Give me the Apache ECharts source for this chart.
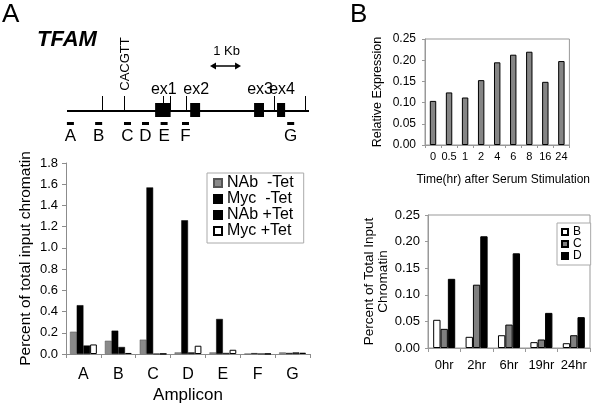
<!DOCTYPE html>
<html>
<head>
<meta charset="utf-8">
<script src="https://cdn.jsdelivr.net/npm/echarts@6/dist/echarts.min.js"></script>
<style>
html,body{margin:0;padding:0;background:#fff;}
#c{width:592px;height:407px;}
</style>
</head>
<body>
<div id="c"></div>
<script>
// ---------- Panel A: gene diagram (positions in kb from left end) ----------
const geneLength = 7.8;
const siteTicks = [1.12, 1.85, 3.08, 3.33, 3.84, 6.68, 7.68];
const motifPos = [1.85];
const motifLabels = ['CACGTT'];
const exonStart = [2.84, 3.97, 6.03, 6.77];
const exonEnd = [3.34, 4.29, 6.35, 7.03];
const exonLabels = ['ex1', 'ex2', 'ex3', 'ex4'];
const ampliconPos = [0.11, 1.02, 1.95, 2.53, 3.13, 3.82, 7.21];
const scaleBar = [4.61, 5.61];
const scaleLabel = '1 Kb';

// ---------- Panel A: ChIP bar chart ----------
const ampliconCats = ['A', 'B', 'C', 'D', 'E', 'F', 'G'];
const nabMinusTet = [0.21, 0.125, 0.135, 0.015, 0.015, 0.002, 0.015];
const mycMinusTet = [0.46, 0.22, 1.57, 1.26, 0.33, 0.008, 0.01];
const nabPlusTet  = [0.08, 0.066, 0.002, 0.015, 0.01, 0.003, 0.015];
const mycPlusTet  = [0.09, 0.01, 0.002, 0.078, 0.04, 0.002, 0.012];
const yTicksA = { min: 0, max: 1.8, interval: 0.2 };

// ---------- Panel B top: expression ----------
const timeCats = ['0', '0.5', '1', '2', '4', '6', '8', '16', '24'];
const relExpr = [0.104, 0.124, 0.112, 0.153, 0.195, 0.213, 0.22, 0.149, 0.198];
const yTicksB = { min: 0, max: 0.25, interval: 0.05 };

// ---------- Panel B bottom: ChIP time course ----------
const hourCats = ['0hr', '2hr', '6hr', '19hr', '24hr'];
const chipB = [0.053, 0.021, 0.024, 0.011, 0.009];
const chipC = [0.036, 0.119, 0.044, 0.016, 0.024];
const chipD = [0.13, 0.21, 0.178, 0.066, 0.058];

const FONT = '"Liberation Sans", Arial, Helvetica, sans-serif';
const GRAY = '#8a8a8a';
const AXIS = '#8c8c8c';

const chart = echarts.init(document.getElementById('c'), null, { renderer: 'canvas' });

function txt(x, y, text, size, extra) {
  return Object.assign({
    type: 'text', x: x, y: y,
    style: { text: text, font: size + 'px ' + FONT, fill: '#000', align: 'center', verticalAlign: 'middle' }
  }, extra || {});
}

const option = {
  animation: false,
  backgroundColor: '#fff',
  textStyle: { fontFamily: FONT, color: '#000' },
  graphic: [
    { type: 'text', left: 2, top: 2, style: { text: 'A', font: '26px ' + FONT, fill: '#000' } },
    { type: 'text', left: 350, top: 2, style: { text: 'B', font: '26px ' + FONT, fill: '#000' } },
    { type: 'text', left: 37, top: 29, style: { text: 'TFAM', font: 'italic bold 22px ' + FONT, fill: '#000' } }
  ],
  legend: [
    {
      data: ['NAb  -Tet', 'Myc  -Tet', 'NAb +Tet', 'Myc +Tet'],
      left: 207, top: 173, orient: 'vertical',
      itemWidth: 8, itemHeight: 8, itemGap: 0,
      padding: [2, 10, 4, 6],
      borderColor: '#aaa', borderWidth: 1, backgroundColor: '#fff',
      icon: 'rect',
      textStyle: { fontSize: 16, lineHeight: 15.5, color: '#000', fontFamily: FONT }
    },
    {
      data: ['B', 'C', 'D'],
      left: 557, top: 223, orient: 'vertical',
      itemWidth: 6, itemHeight: 6, itemGap: 0,
      padding: [3, 9, 3, 4],
      borderColor: '#aaa', borderWidth: 1, backgroundColor: '#fff',
      icon: 'rect',
      textStyle: { fontSize: 12, lineHeight: 11, color: '#000', fontFamily: FONT }
    }
  ],
  grid: [
    { left: 66, right: 282, top: 163, bottom: 53 },
    { left: 425, right: 3, top: 39, bottom: 262, show: true, borderColor: '#999', borderWidth: 1, backgroundColor: 'transparent' },
    { left: 428, right: 2, top: 215, bottom: 59, show: true, borderColor: '#999', borderWidth: 1, backgroundColor: 'transparent' },
    { left: 67, right: 283, top: 61, height: 100 }
  ],
  xAxis: [
    {
      gridIndex: 0, type: 'category', data: ampliconCats,
      axisLine: { lineStyle: { color: AXIS } },
      axisTick: { show: true, length: 4, lineStyle: { color: AXIS } },
      axisLabel: { fontSize: 16, color: '#000', margin: 13, interval: 0 },
      name: 'Amplicon', nameLocation: 'middle', nameGap: 33,
      nameTextStyle: { fontSize: 17, color: '#000' }
    },
    {
      gridIndex: 1, type: 'category', data: timeCats,
      axisLine: { lineStyle: { color: '#999' } },
      axisTick: { show: true, length: 3, lineStyle: { color: '#999' } },
      axisLabel: { fontSize: 11, color: '#000', margin: 6, interval: 0 },
      name: 'Time(hr) after Serum Stimulation', nameLocation: 'middle', nameGap: 29,
      nameTextStyle: { fontSize: 12, color: '#000', padding: [0, 0, 0, 12] }
    },
    {
      gridIndex: 2, type: 'category', data: hourCats,
      axisLine: { lineStyle: { color: '#999' } },
      axisTick: { show: true, length: 4, lineStyle: { color: '#999' } },
      axisLabel: { fontSize: 13, color: '#000', margin: 11, interval: 0 }
    },
    { gridIndex: 3, type: 'value', min: 0, max: geneLength, show: false }
  ],
  yAxis: [
    {
      gridIndex: 0, type: 'value', min: yTicksA.min, max: yTicksA.max, interval: yTicksA.interval,
      axisLine: { show: true, lineStyle: { color: AXIS } },
      axisTick: { show: true, length: 4, lineStyle: { color: AXIS } },
      splitLine: { show: false },
      axisLabel: { fontSize: 13, color: '#000', margin: 8, formatter: v => v.toFixed(1) },
      name: 'Percent of total input chromatin', nameLocation: 'middle', nameGap: 32,
      nameTextStyle: { fontSize: 15.5, color: '#000' }
    },
    {
      gridIndex: 1, type: 'value', min: yTicksB.min, max: yTicksB.max, interval: yTicksB.interval,
      axisLine: { show: true, lineStyle: { color: '#999' } },
      axisTick: { show: true, length: 3, lineStyle: { color: '#999' } },
      splitLine: { show: false },
      axisLabel: { fontSize: 12, color: '#000', margin: 9, formatter: v => v.toFixed(2) },
      name: 'Relative Expression', nameLocation: 'middle', nameGap: 41,
      nameTextStyle: { fontSize: 12.5, color: '#000' }
    },
    {
      gridIndex: 2, type: 'value', min: yTicksB.min, max: yTicksB.max, interval: yTicksB.interval,
      axisLine: { show: true, lineStyle: { color: '#999' } },
      axisTick: { show: true, length: 3, lineStyle: { color: '#999' } },
      splitLine: { show: false },
      axisLabel: { fontSize: 13, color: '#000', margin: 8, formatter: v => v.toFixed(2) },
      name: 'Percent of Total Input\nChromatin', nameLocation: 'middle', nameGap: 38,
      nameTextStyle: { fontSize: 13.5, lineHeight: 13.5, color: '#000' }
    },
    { gridIndex: 3, type: 'value', min: -1, max: 1, show: false }
  ],
  series: [
    // ---- Panel A chart ----
    { name: 'NAb  -Tet', type: 'bar', xAxisIndex: 0, yAxisIndex: 0, data: nabMinusTet,
      barGap: '0%', barCategoryGap: '23%',
      itemStyle: { color: GRAY, borderColor: '#555', borderWidth: 0.5 } },
    { name: 'Myc  -Tet', type: 'bar', xAxisIndex: 0, yAxisIndex: 0, data: mycMinusTet,
      itemStyle: { color: '#000', borderColor: '#000', borderWidth: 0.5 } },
    { name: 'NAb +Tet', type: 'bar', xAxisIndex: 0, yAxisIndex: 0, data: nabPlusTet,
      itemStyle: { color: '#000', borderColor: '#000', borderWidth: 0.5 } },
    { name: 'Myc +Tet', type: 'bar', xAxisIndex: 0, yAxisIndex: 0, data: mycPlusTet,
      itemStyle: { color: '#fff', borderColor: '#000', borderWidth: 1 } },
    // ---- Panel B top ----
    { name: 'Relative Expression', type: 'bar', xAxisIndex: 1, yAxisIndex: 1, data: relExpr,
      barCategoryGap: '60%',
      itemStyle: { color: '#858585', borderColor: '#000', borderWidth: 1 } },
    // ---- Panel B bottom ----
    { name: 'B', type: 'bar', xAxisIndex: 2, yAxisIndex: 2, data: chipB,
      barGap: '0%', barCategoryGap: '32%',
      itemStyle: { color: '#fff', borderColor: '#000', borderWidth: 1 } },
    { name: 'C', type: 'bar', xAxisIndex: 2, yAxisIndex: 2, data: chipC,
      itemStyle: { color: '#808080', borderColor: '#000', borderWidth: 1 } },
    { name: 'D', type: 'bar', xAxisIndex: 2, yAxisIndex: 2, data: chipD,
      itemStyle: { color: '#000', borderColor: '#000', borderWidth: 1 } },
    // ---- Gene diagram ----
    { type: 'custom', xAxisIndex: 3, yAxisIndex: 3, silent: true, data: [[0, geneLength]],
      renderItem: (params, api) => {
        const a = api.coord([api.value(0), 0]);
        const b = api.coord([api.value(1), 0]);
        return { type: 'line', shape: { x1: a[0], y1: a[1], x2: b[0], y2: b[1] }, style: { stroke: '#000', lineWidth: 2 } };
      } },
    { type: 'custom', xAxisIndex: 3, yAxisIndex: 3, silent: true, data: siteTicks.map(v => [v]),
      renderItem: (params, api) => {
        const p = api.coord([api.value(0), 0]);
        const x = Math.round(p[0]) + 0.5;
        return { type: 'line', shape: { x1: x, y1: p[1] - 15, x2: x, y2: p[1] }, style: { stroke: '#000', lineWidth: 1 } };
      } },
    { type: 'custom', xAxisIndex: 3, yAxisIndex: 3, silent: true, data: motifPos.map(v => [v]),
      renderItem: (params, api) => {
        const p = api.coord([api.value(0), 0]);
        return txt(p[0] + 1.5, p[1] - 47, motifLabels[params.dataIndex], 13, { rotation: Math.PI / 2 });
      } },
    { type: 'custom', xAxisIndex: 3, yAxisIndex: 3, silent: true,
      data: exonStart.map((s, i) => [s, exonEnd[i]]),
      renderItem: (params, api) => {
        const a = api.coord([api.value(0), 0]);
        const b = api.coord([api.value(1), 0]);
        return { type: 'group', children: [
          { type: 'rect', shape: { x: a[0], y: a[1] - 8, width: b[0] - a[0], height: 14 }, style: { fill: '#000' } },
          { type: 'text', x: (a[0] + b[0]) / 2 + 1, y: a[1] - 13,
            style: { text: exonLabels[params.dataIndex], font: '16px ' + FONT, fill: '#000', align: 'center', verticalAlign: 'bottom' } }
        ] };
      } },
    { type: 'custom', xAxisIndex: 3, yAxisIndex: 3, silent: true, data: ampliconPos.map(v => [v]),
      renderItem: (params, api) => {
        const p = api.coord([api.value(0), 0]);
        return { type: 'group', children: [
          { type: 'rect', shape: { x: p[0] - 3.5, y: p[1] + 11, width: 7, height: 3 }, style: { fill: '#000' } },
          txt(p[0], p[1] + 25, ampliconCats[params.dataIndex], 17)
        ] };
      } },
    { type: 'custom', xAxisIndex: 3, yAxisIndex: 3, silent: true, data: [scaleBar],
      renderItem: (params, api) => {
        const a = api.coord([api.value(0), 0]);
        const b = api.coord([api.value(1), 0]);
        const y = a[1] - 45;
        return { type: 'group', children: [
          { type: 'line', shape: { x1: a[0] + 3, y1: y, x2: b[0] - 3, y2: y }, style: { stroke: '#000', lineWidth: 1.5 } },
          { type: 'polygon', shape: { points: [[a[0], y], [a[0] + 6, y - 3.5], [a[0] + 6, y + 3.5]] }, style: { fill: '#000' } },
          { type: 'polygon', shape: { points: [[b[0], y], [b[0] - 6, y - 3.5], [b[0] - 6, y + 3.5]] }, style: { fill: '#000' } },
          txt((a[0] + b[0]) / 2 + 1, y - 15, scaleLabel, 13)
        ] };
      } }
  ]
};
chart.setOption(option);
</script>
</body>
</html>
